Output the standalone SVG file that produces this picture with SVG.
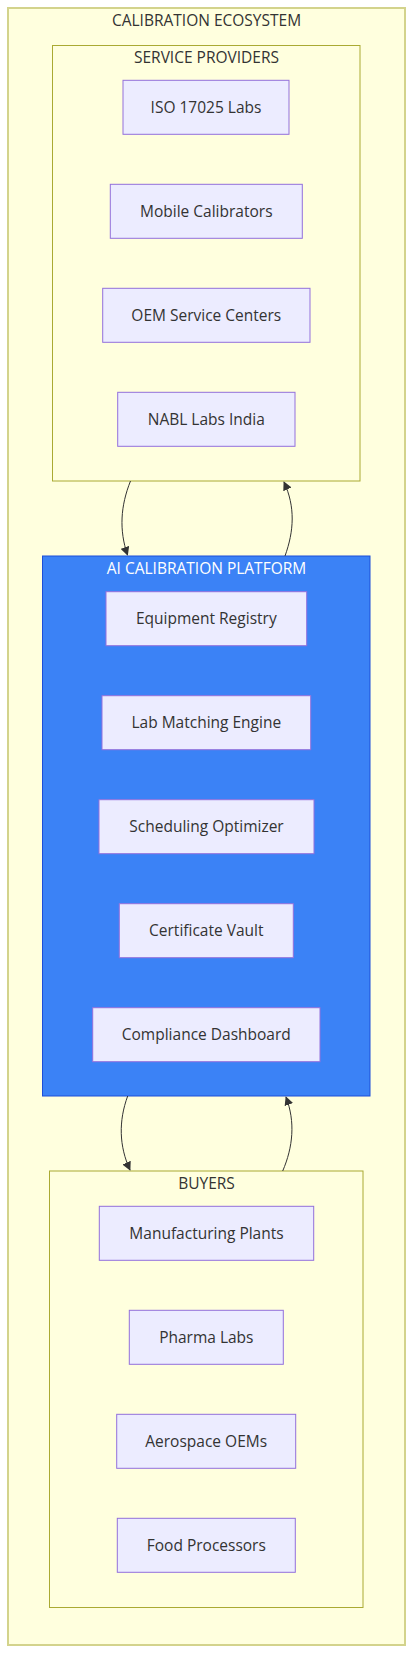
<svg xmlns="http://www.w3.org/2000/svg" width="413" height="1653" viewBox="0 0 413 1653">
<style>
text{font-family:"Open Sans","Liberation Sans",sans-serif;font-size:15.5px;fill:#333;text-anchor:middle;dominant-baseline:central}
.outer{fill:#ffffde;stroke:#d3d38c;stroke-width:2}
.cluster{fill:#ffffde;stroke:#aaaa33;stroke-width:1}
.platform{fill:#3b82f6;stroke:#1d4ed8;stroke-width:1}
.node rect{fill:#ececff;stroke:#9370db;stroke-width:1}
.title-w{fill:#ffffff}
.edge{fill:none;stroke:#333;stroke-width:1;marker-end:url(#arrow)}
</style>
<defs>
<marker id="arrow" viewBox="0 0 10 10" refX="9" refY="5" markerWidth="9" markerHeight="9" markerUnits="userSpaceOnUse" orient="auto">
<path d="M0,0 L10,5 L0,10 z" fill="#333"/>
</marker>
</defs>
<rect width="413" height="1653" fill="#ffffff"/>
<g id="calibration-ecosystem">
<rect class="outer" x="8" y="8" width="397" height="1637"/>
<text x="206.5" y="19.5">CALIBRATION ECOSYSTEM</text>
</g>
<g id="service-providers">
<rect class="cluster" x="52.5" y="45.5" width="307.5" height="435.5"/>
<text x="206.5" y="57">SERVICE PROVIDERS</text>
</g>
<g id="ai-platform">
<rect class="platform" x="42.5" y="556" width="327.5" height="540"/>
<text class="title-w" x="206.5" y="568">AI CALIBRATION PLATFORM</text>
</g>
<g id="buyers">
<rect class="cluster" x="49.5" y="1171" width="313.5" height="436.5"/>
<text x="206.5" y="1182.5">BUYERS</text>
</g>
<g id="edges">
<path class="edge" d="M130.5,481 C120.5,506 119,530 127.5,555"/>
<path class="edge" d="M285,556 C294,531 295.5,507 284,482"/>
<path class="edge" d="M127.7,1096 C118.5,1121 119,1146 130,1170"/>
<path class="edge" d="M282.7,1171 C293,1147 295.5,1122 286,1097"/>
</g>
<g id="iso-labs" class="node"><rect x="123" y="80.3" width="166" height="54"/><text x="206" y="107">ISO 17025 Labs</text></g>
<g id="mobile-calibrators" class="node"><rect x="110.3" y="184.3" width="192" height="54"/><text x="206.3" y="211">Mobile Calibrators</text></g>
<g id="oem-service-centers" class="node"><rect x="102.7" y="288.3" width="207.3" height="54"/><text x="206.3" y="315">OEM Service Centers</text></g>
<g id="nabl-labs" class="node"><rect x="117.7" y="392.3" width="177.3" height="54"/><text x="206.3" y="419">NABL Labs India</text></g>
<g id="equipment-registry" class="node"><rect x="106" y="591.7" width="200.7" height="54"/><text x="206.3" y="618.4">Equipment Registry</text></g>
<g id="lab-matching-engine" class="node"><rect x="102" y="695.7" width="208.7" height="54"/><text x="206.3" y="722.4">Lab Matching Engine</text></g>
<g id="scheduling-optimizer" class="node"><rect x="99" y="799.7" width="215" height="54"/><text x="206.5" y="826.4">Scheduling Optimizer</text></g>
<g id="certificate-vault" class="node"><rect x="119.3" y="903.7" width="174" height="54"/><text x="206.3" y="930.4">Certificate Vault</text></g>
<g id="compliance-dashboard" class="node"><rect x="92.7" y="1007.7" width="227.3" height="54"/><text x="206.3" y="1034.4">Compliance Dashboard</text></g>
<g id="manufacturing-plants" class="node"><rect x="99.3" y="1206.3" width="214.4" height="54"/><text x="206.5" y="1233">Manufacturing Plants</text></g>
<g id="pharma-labs" class="node"><rect x="129.3" y="1310.3" width="154" height="54"/><text x="206.3" y="1337">Pharma Labs</text></g>
<g id="aerospace-oems" class="node"><rect x="116.7" y="1414.3" width="179" height="54"/><text x="206.2" y="1441">Aerospace OEMs</text></g>
<g id="food-processors" class="node"><rect x="117.3" y="1518.3" width="178" height="54"/><text x="206.3" y="1545">Food Processors</text></g>
</svg>
